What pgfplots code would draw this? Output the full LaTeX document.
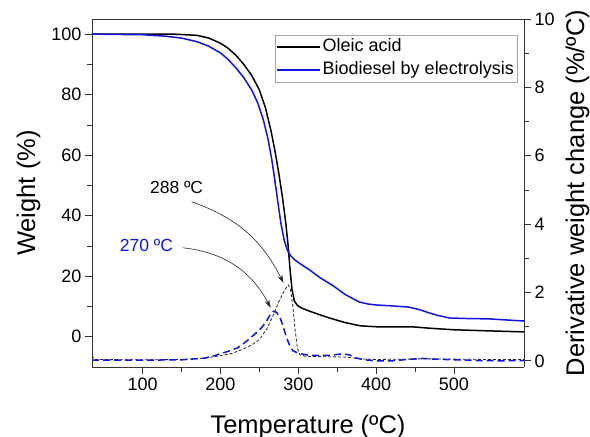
\documentclass[border=0pt]{standalone}
\usepackage{fontspec}
\setmainfont{Liberation Sans}
\usepackage{pgfplots}
\pgfplotsset{compat=1.18}
\usetikzlibrary{arrows.meta}
\definecolor{myblue}{RGB}{20,20,225}

\pgfplotstableread{
T W
35 100
140 100
170 99.6
185 98.7
200 97
210 95.3
220 93
230 90
240 86.4
250 81.6
258 75.5
265 68
270 61.5
275 54
280 45.5
284 37.5
287 30
289.5 22
292 15.5
295 11.8
299 10.3
305 9.4
315 8.4
325 7.5
340 6.2
360 4.7
380 3.6
400 3.3
445 3.3
470 2.8
500 2.3
550 1.9
590 1.6
}\oleicTG

\pgfplotstableread{
T W
35 100
100 99.8
130 99.3
150 98.7
170 97.5
185 96
200 93.8
210 91.6
220 88.8
230 85.6
240 81.6
248 77.2
255 71.8
261 65.5
266 58.5
270 51.5
274 44
278 37
282 31.8
286 28.6
290 26.8
295 25.5
302 24.2
315 22
328 19.5
345 16.8
360 14
378 11.5
390 10.8
400 10.5
420 10.2
442 9.8
455 9
468 7.9
480 7
494 6.2
520 6
545 5.9
570 5.5
590 5.2
}\bioTG

\pgfplotstableread{
T D
35 0.15
38 0.04
100 0.03
150 0.04
180 0.08
200 0.15
215 0.22
230 0.35
240 0.46
250 0.62
260 0.95
268 1.35
276 1.78
282 2.05
287 2.22
290 2.1
293 1.6
296 0.9
299 0.35
302 0.18
310 0.13
340 0.12
360 0.11
380 0.06
400 0.04
440 0.05
460 0.06
500 0.05
550 0.04
590 0.04
}\oleicDTG

\pgfplotstableread{
T D
35 0.02
100 0.02
150 0.03
180 0.08
192 0.15
210 0.28
222 0.38
235 0.6
245 0.8
252 0.95
258 1.12
264 1.35
268 1.45
272 1.42
276 1.3
280 1.05
284 0.75
288 0.5
293 0.3
300 0.22
315 0.16
340 0.16
355 0.2
365 0.18
375 0.08
385 0.03
400 0.0
420 0.0
440 0.04
460 0.07
475 0.05
500 0.03
530 0.01
560 0.0
590 0.01
}\bioDTG

\begin{document}
\begin{tikzpicture}
\useasboundingbox (-92bp,-70bp) rectangle (498bp,367bp);
\pgfplotsset{
  every axis/.append style={
    scale only axis, width=432bp, height=348bp,
    xmin=35, xmax=590,
    axis line style={line width=0.9bp, black!80},
    tick align=outside,
    major tick length=7bp, minor tick length=4.5bp,
    every tick/.style={line width=0.8bp, black!80},
    tick label style={font=\fontsize{18bp}{20bp}\selectfont},
    label style={font=\fontsize{25.5bp}{28bp}\selectfont},
    /pgf/number format/assume math mode=true,
  }
}
\begin{axis}[
  ymin=-10, ymax=105,
  axis y line*=left,
  xtick pos=left,
  xtick={100,200,300,400,500},
  minor x tick num=1,
  ytick={0,20,40,60,80,100},
  minor y tick num=1,
  xlabel={Temperature (ºC)},
  ylabel={Weight (\%)},
  xlabel style={at={(axis description cs:0.5,-0.19)}, anchor=base},
  ylabel style={at={(axis description cs:-0.147,0.5)}, anchor=center},
  legend style={at={(axis description cs:0.9838,0.954)}, anchor=north east,
    draw=gray!70, fill=white,
    font=\fontsize{18bp}{20bp}\selectfont,
    nodes={inner sep=1.5bp, text height=13bp, text depth=4bp},
    inner xsep=1.5bp, inner ysep=2bp, row sep=2.8bp},
  legend cell align=left,
  legend image code/.code={\draw[#1] (0bp,0bp) -- (43bp,0bp);},
]
\addplot[black, line width=1.5bp, forget plot] table[x=T,y=W] {\oleicTG};
\addplot[myblue, line width=1.5bp, forget plot] table[x=T,y=W] {\bioTG};
\addlegendimage{black, line width=1.8bp}
\addlegendentry{Oleic acid}
\addlegendimage{myblue, line width=1.8bp}
\addlegendentry{Biodiesel by electrolysis}

\draw[-{Stealth[length=8bp,width=5bp]}, line width=0.6bp, black!85]
  (axis cs:163,44.6) to[bend left=22] (axis cs:281,17.8);
\draw[-{Stealth[length=8bp,width=5bp]}, line width=0.6bp, black!85]
  (axis cs:151.4,29.4) to[bend left=28] (axis cs:264.5,9.6);
\node[font=\fontsize{17.5bp}{19bp}\selectfont] at (axis cs:143.7,49.2) {288 ºC};
\node[font=\fontsize{17.5bp}{19bp}\selectfont, text=myblue] at (axis cs:105,30) {270 ºC};
\end{axis}

\begin{axis}[
  ymin=-0.18, ymax=10,
  axis y line*=right,
  axis x line=none,
  ytick={0,2,4,6,8,10},
  minor y tick num=1,
  ylabel={Derivative weight change (\%/ºC)},
  ylabel style={at={(axis description cs:1.124,0.5)}, anchor=center},
]
\addplot[black!85, line width=0.8bp, dash pattern=on 3bp off 2bp] table[x=T,y=D] {\oleicDTG};
\addplot[myblue, line width=1.5bp, dash pattern=on 7bp off 4bp] table[x=T,y=D] {\bioDTG};
\end{axis}
\end{tikzpicture}
\end{document}
